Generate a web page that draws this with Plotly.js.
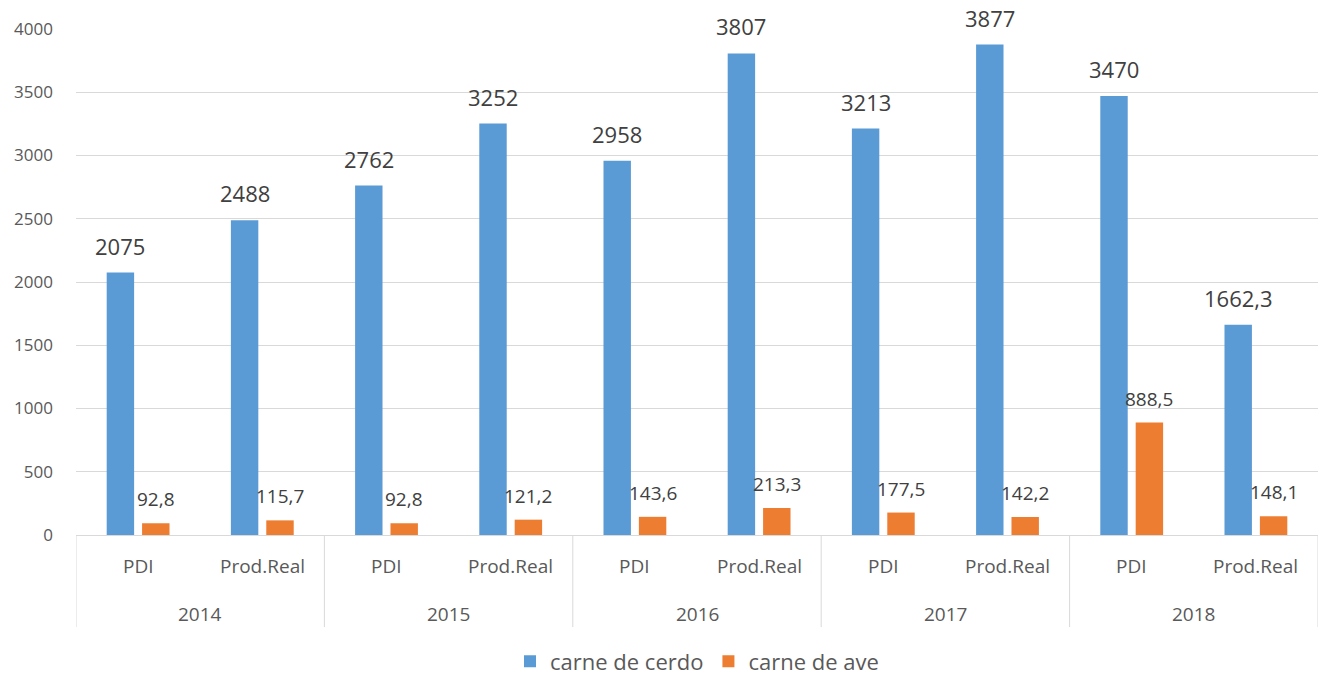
<!DOCTYPE html>
<html>
<head>
<meta charset="utf-8">
<script src="https://cdn.plot.ly/plotly-3.0.1.min.js"></script>
<style>html,body{margin:0;padding:0;background:#fff;}#chart{width:1320px;height:677px;}</style>
</head>
<body>
<div id="chart"></div>
<script>
const years = ["2014","2014","2015","2015","2016","2016","2017","2017","2018","2018"];
const subcats = ["PDI","Prod.Real","PDI","Prod.Real","PDI","Prod.Real","PDI","Prod.Real","PDI","Prod.Real"];
const cerdo = [2075, 2488, 2762, 3252, 2958, 3807, 3213, 3877, 3470, 1662.3];
const ave = [92.8, 115.7, 92.8, 121.2, 143.6, 213.3, 177.5, 142.2, 888.5, 148.1];
const seriesNames = ["carne de cerdo", "carne de ave"];
const yTicks = [0, 500, 1000, 1500, 2000, 2500, 3000, 3500, 4000];

const fmt = v => String(v).replace('.', ',');
const font = "'Open Sans', 'Noto Sans', sans-serif";
const labelColor = '#404040';
const axisText = '#595959';
const lineColor = '#d9d9d9';
const barOffset = 17.75; // px offset of each bar from slot centre

const traces = [
  {type: 'bar', name: seriesNames[0], x: [years, subcats], y: cerdo, marker: {color: '#5B9BD5'}},
  {type: 'bar', name: seriesNames[1], x: [years, subcats], y: ave, marker: {color: '#ED7D31'}}
];

const annotations = [];
const shapes = [];
cerdo.forEach((v, i) => annotations.push({
  x: i, y: v, xref: 'x', yref: 'y', text: fmt(v), showarrow: false,
  xanchor: 'center', yanchor: 'bottom', xshift: -barOffset, yshift: 10,
  font: {size: 22, color: labelColor, family: font}
}));
ave.forEach((v, i) => annotations.push({
  x: i, y: v, xref: 'x', yref: 'y', text: fmt(v), showarrow: false,
  xanchor: 'center', yanchor: 'bottom', xshift: barOffset, yshift: 9,
  font: {size: 19, color: labelColor, family: font}
}));
subcats.forEach((s, i) => annotations.push({
  x: i, y: -0.0613, xref: 'x', yref: 'paper', text: s, showarrow: false,
  xanchor: 'center', yanchor: 'middle', font: {size: 19, color: axisText, family: font}
}));
years.forEach((y, i) => {
  if (i === 0 || years[i - 1] !== y) {
    let j = i; while (j + 1 < years.length && years[j + 1] === y) j++;
    annotations.push({
      x: (i + j) / 2, y: -0.1561, xref: 'x', yref: 'paper', text: y, showarrow: false,
      xanchor: 'center', yanchor: 'middle', font: {size: 19, color: axisText, family: font}
    });
    shapes.push({type: 'line', xref: 'x', yref: 'paper', x0: i - 0.5, x1: i - 0.5, y0: 0, y1: -0.182,
      line: {color: lineColor, width: 1}});
  }
});
shapes.push({type: 'line', xref: 'x', yref: 'paper', x0: years.length - 0.5, x1: years.length - 0.5,
  y0: 0, y1: -0.182, line: {color: lineColor, width: 1}});

const layout = {
  width: 1320, height: 677,
  margin: {l: 76, r: 2, t: 29, b: 142, autoexpand: false},
  paper_bgcolor: '#fff', plot_bgcolor: '#fff',
  barmode: 'group', bargap: 0.43, bargroupgap: 0.225,
  font: {family: font, color: axisText, size: 15},
  showlegend: true,
  legend: {orientation: 'h', x: 0.5, xanchor: 'center', y: -0.25, yanchor: 'middle',
           font: {size: 22, color: axisText}, itemwidth: 30, bgcolor: 'rgba(0,0,0,0)'},
  xaxis: {
    type: 'multicategory', showline: true, linecolor: lineColor, linewidth: 1,
    showticklabels: false, showdividers: false, showgrid: false, ticks: '',
    range: [-0.5, years.length - 0.5]
  },
  yaxis: {
    range: [0, 4000], tickvals: yTicks, showgrid: true, gridcolor: lineColor,
    zeroline: false, showline: false, tickfont: {size: 17, color: axisText},
    ticks: '', ticklabelstandoff: 22
  },
  annotations: annotations,
  shapes: shapes
};

Plotly.newPlot('chart', traces, layout, {displayModeBar: false, staticPlot: true});
</script>
</body>
</html>
